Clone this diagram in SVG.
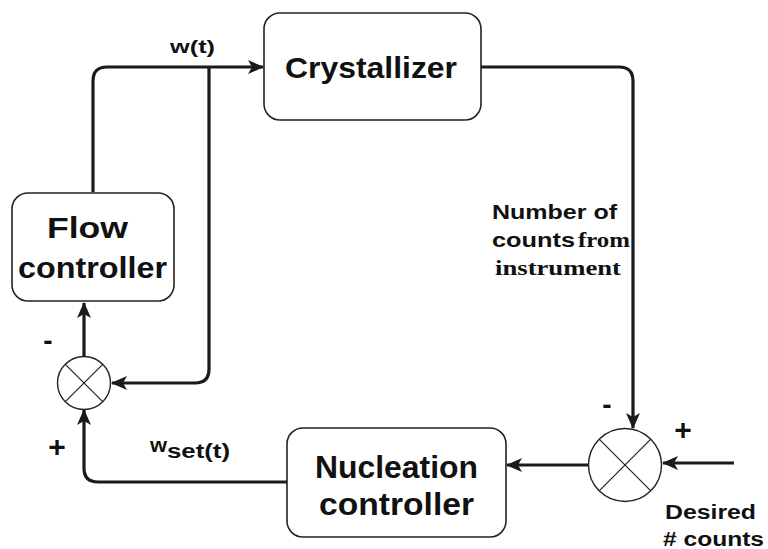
<svg xmlns="http://www.w3.org/2000/svg" width="768" height="549" viewBox="0 0 768 549">
<style>
.box{fill:#fff;stroke:#222;stroke-width:1.6}
.sum{fill:#fff;stroke:#222;stroke-width:1.4}
.x{stroke:#222;stroke-width:1.2}
.c{fill:none;stroke:#1a1a1a;stroke-width:3.2}
.t{font-family:"Liberation Sans",Arial,sans-serif;font-weight:bold;fill:#111}
.s{font-family:"Liberation Serif","Times New Roman",serif;font-weight:bold;fill:#111}
</style>
<defs>
<marker id="ah" viewBox="0 0 16 14" refX="15" refY="7" markerWidth="16" markerHeight="14" markerUnits="userSpaceOnUse" orient="auto">
<path d="M0,0 L16,7 L0,14 L4,7 Z" fill="#1a1a1a"/>
</marker>
</defs>
<rect width="768" height="549" fill="#fff"/>
<g id="connectors">
<path class="c" d="M93,192 V81 Q93,67 107,67 H263" marker-end="url(#ah)"/>
<path class="c" d="M209,67 V369 Q209,383 195,383 H112" marker-end="url(#ah)"/>
<path class="c" d="M481,67 H619 Q633,67 633,81 V428" marker-end="url(#ah)"/>
<path class="c" d="M84,356 V303" marker-end="url(#ah)"/>
<path class="c" d="M287,482 H98 Q84,482 84,468 V410" marker-end="url(#ah)"/>
<path class="c" d="M588,465 H507" marker-end="url(#ah)"/>
<path class="c" d="M734,463 H663" marker-end="url(#ah)"/>
</g>
<g id="crystallizer">
<rect class="box" x="264" y="13" width="217" height="107" rx="16"/>
<text class="t" x="285" y="78" font-size="30" textLength="172" lengthAdjust="spacingAndGlyphs">Crystallizer</text>
</g>
<g id="flow-controller">
<rect class="box" x="12" y="193" width="162" height="108" rx="16"/>
<text class="t" x="47" y="238" font-size="30" textLength="81" lengthAdjust="spacingAndGlyphs">Flow</text>
<text class="t" x="18" y="278" font-size="30" textLength="149" lengthAdjust="spacingAndGlyphs">controller</text>
</g>
<g id="nucleation-controller">
<rect class="box" x="287" y="428" width="219" height="109" rx="16"/>
<text class="t" x="315" y="478" font-size="31" textLength="163" lengthAdjust="spacingAndGlyphs">Nucleation</text>
<text class="t" x="319" y="515" font-size="31" textLength="155" lengthAdjust="spacingAndGlyphs">controller</text>
</g>
<g id="sum-left">
<circle class="sum" cx="84" cy="383" r="26.5"/>
<line class="x" x1="65.3" y1="364.3" x2="102.7" y2="401.7"/>
<line class="x" x1="102.7" y1="364.3" x2="65.3" y2="401.7"/>
</g>
<g id="sum-right">
<circle class="sum" cx="625" cy="465" r="36.5"/>
<line class="x" x1="599.2" y1="439.2" x2="650.8" y2="490.8"/>
<line class="x" x1="650.8" y1="439.2" x2="599.2" y2="490.8"/>
</g>
<g id="labels">
<text class="t" x="170" y="53" font-size="18" textLength="45" lengthAdjust="spacingAndGlyphs">w(t)</text>
<text class="t" x="150" y="452" font-size="21" textLength="17" lengthAdjust="spacingAndGlyphs">w</text>
<text class="t" x="167" y="458" font-size="20" textLength="63" lengthAdjust="spacingAndGlyphs">set(t)</text>
<text class="t" x="48" y="350" font-size="28" text-anchor="middle">-</text>
<text class="t" x="57" y="457" font-size="30" text-anchor="middle">+</text>
<text class="t" x="607" y="414" font-size="28" text-anchor="middle">-</text>
<text class="t" x="683" y="440" font-size="30" text-anchor="middle">+</text>
<text class="t" x="492" y="219" font-size="20" textLength="125" lengthAdjust="spacingAndGlyphs">Number of</text>
<text class="t" x="492" y="247" font-size="20" textLength="83" lengthAdjust="spacingAndGlyphs">counts</text>
<text class="s" x="578" y="247" font-size="21" textLength="52" lengthAdjust="spacingAndGlyphs">from</text>
<text class="s" x="495" y="275" font-size="21" textLength="126" lengthAdjust="spacingAndGlyphs">instrument</text>
<text class="t" x="665" y="519" font-size="20" textLength="91" lengthAdjust="spacingAndGlyphs">Desired</text>
<text class="t" x="663" y="546" font-size="20" textLength="101" lengthAdjust="spacingAndGlyphs"># counts</text>
</g>
</svg>
